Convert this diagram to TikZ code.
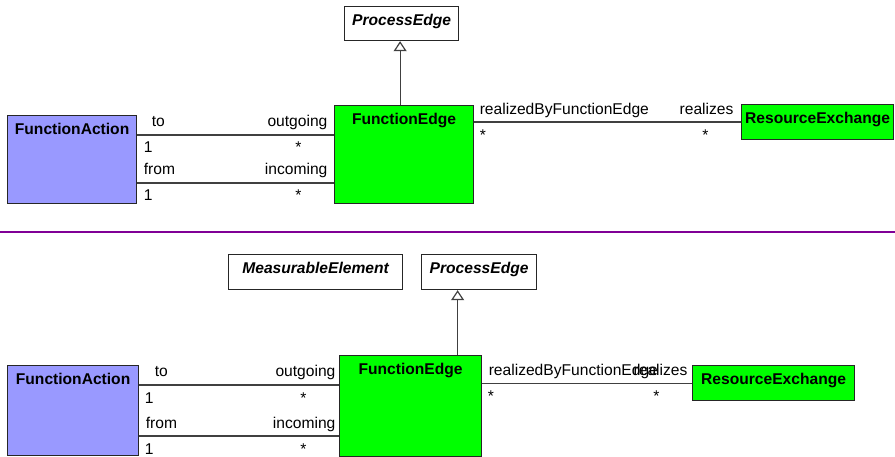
\documentclass[tikz,border=0pt]{standalone}
\usepackage{fontspec}
\setmainfont{Liberation Sans}
\usepackage{tikz}
\usetikzlibrary{arrows.meta}
\definecolor{actblue}{RGB}{153,153,255}
\definecolor{edgegreen}{RGB}{0,255,0}
\definecolor{seppurple}{RGB}{128,0,150}

\begin{document}
\begin{tikzpicture}[
  x=1pt, y=-1pt,
  font=\fontsize{15.6}{18}\selectfont,
  cls/.style={rectangle, draw=black!85, line width=1.2pt, inner sep=0pt, text height=19pt,
              anchor=north west, font=\fontsize{15.6}{18}\selectfont\bfseries},
  abstractcls/.style={cls, fill=white, font=\fontsize{15.6}{18}\selectfont\bfseries\itshape},
  actioncls/.style={cls, fill=actblue},
  edgecls/.style={cls, fill=edgegreen},
  assoc/.style={draw=black!75, line width=1.2pt},
  gen/.style={assoc, -{Triangle[open, length=10pt, width=13pt]}},
  role/.style={inner sep=0pt},
  sepline/.style={draw=seppurple, line width=1.2pt}
]
\useasboundingbox (0,0) rectangle (895,457);

% upper view
\node[abstractcls, minimum width=114pt, text depth=15pt] (pe1) at (344,6) {ProcessEdge};
\node[edgecls, minimum width=139pt, text depth=79pt] (fe1) at (334,105) {FunctionEdge};
\node[actioncls, minimum width=129pt, text depth=69pt] (fa1) at (7,115) {FunctionAction};
\node[edgecls, minimum width=152pt, text depth=16pt] (re1) at (741,104) {ResourceExchange};
\draw[gen] ([xshift=-4pt]fe1.north) -- ([xshift=-4pt]fe1.north |- pe1.south);
\draw[assoc] ([yshift=-20pt]fa1.north east) -- ([yshift=-20pt]fa1.north east -| fe1.west)
  node[role, pos=0, anchor=base west, xshift=14pt, yshift=8pt] (to1) {to}
  node[role, pos=0, anchor=base west, xshift=6pt, yshift=-18pt] (tom1) {1}
  node[role, pos=1, anchor=base east, xshift=-6pt, yshift=8pt] (out1) {outgoing}
  node[role, pos=1, anchor=base east, xshift=-32pt, yshift=-18pt] (outm1) {*};
\draw[assoc] ([yshift=-68pt]fa1.north east) -- ([yshift=-68pt]fa1.north east -| fe1.west)
  node[role, pos=0, anchor=base west, xshift=6pt, yshift=8pt] (from1) {from}
  node[role, pos=0, anchor=base west, xshift=6pt, yshift=-18pt] (fromm1) {1}
  node[role, pos=1, anchor=base east, xshift=-6pt, yshift=8pt] (in1) {incoming}
  node[role, pos=1, anchor=base east, xshift=-32pt, yshift=-18pt] (inm1) {*};
\draw[assoc] (re1.west -| fe1.east) -- (re1.west)
  node[role, pos=0, anchor=base west, xshift=5pt, yshift=8pt] (rb1) {realizedByFunctionEdge}
  node[role, pos=0, anchor=base west, xshift=5pt, yshift=-18pt] (rbm1) {*}
  node[role, pos=1, anchor=base east, xshift=-7pt, yshift=8pt] (rz1) {realizes}
  node[role, pos=1, anchor=base east, xshift=-32pt, yshift=-18pt] (rzm1) {*};

\draw[sepline] (0,232) -- (895,232);

% lower view
\node[abstractcls, minimum width=174pt, text depth=16pt] (me2) at (228,254) {MeasurableElement};
\node[abstractcls, minimum width=115pt, text depth=16pt] (pe2) at (421,254) {ProcessEdge};
\node[edgecls, minimum width=142pt, text depth=82pt] (fe2) at (339,355) {FunctionEdge};
\node[actioncls, minimum width=131pt, text depth=71pt] (fa2) at (7,365) {FunctionAction};
\node[edgecls, minimum width=162pt, text depth=16pt] (re2) at (692,365) {ResourceExchange};
\draw[gen] ([xshift=47pt]fe2.north) -- ([xshift=47pt]fe2.north |- pe2.south);
\draw[assoc] ([yshift=-20pt]fa2.north east) -- ([yshift=-20pt]fa2.north east -| fe2.west)
  node[role, pos=0, anchor=base west, xshift=15pt, yshift=8pt] (to2) {to}
  node[role, pos=0, anchor=base west, xshift=5pt, yshift=-18pt] (tom2) {1}
  node[role, pos=1, anchor=base east, xshift=-3pt, yshift=8pt] (out2) {outgoing}
  node[role, pos=1, anchor=base east, xshift=-32pt, yshift=-18pt] (outm2) {*};
\draw[assoc] ([yshift=-71pt]fa2.north east) -- ([yshift=-71pt]fa2.north east -| fe2.west)
  node[role, pos=0, anchor=base west, xshift=6pt, yshift=8pt] (from2) {from}
  node[role, pos=0, anchor=base west, xshift=5pt, yshift=-18pt] (fromm2) {1}
  node[role, pos=1, anchor=base east, xshift=-3pt, yshift=8pt] (in2) {incoming}
  node[role, pos=1, anchor=base east, xshift=-32pt, yshift=-18pt] (inm2) {*};
\draw[assoc] (re2.west -| fe2.east) -- (re2.west)
  node[role, pos=0, anchor=base west, xshift=6pt, yshift=8pt] (rb2) {realizedByFunctionEdge}
  node[role, pos=0, anchor=base west, xshift=5pt, yshift=-18pt] (rbm2) {*}
  node[role, pos=1, anchor=base east, xshift=-4pt, yshift=8pt] (rz2) {realizes}
  node[role, pos=1, anchor=base east, xshift=-32pt, yshift=-18pt] (rzm2) {*};
\end{tikzpicture}
\end{document}
